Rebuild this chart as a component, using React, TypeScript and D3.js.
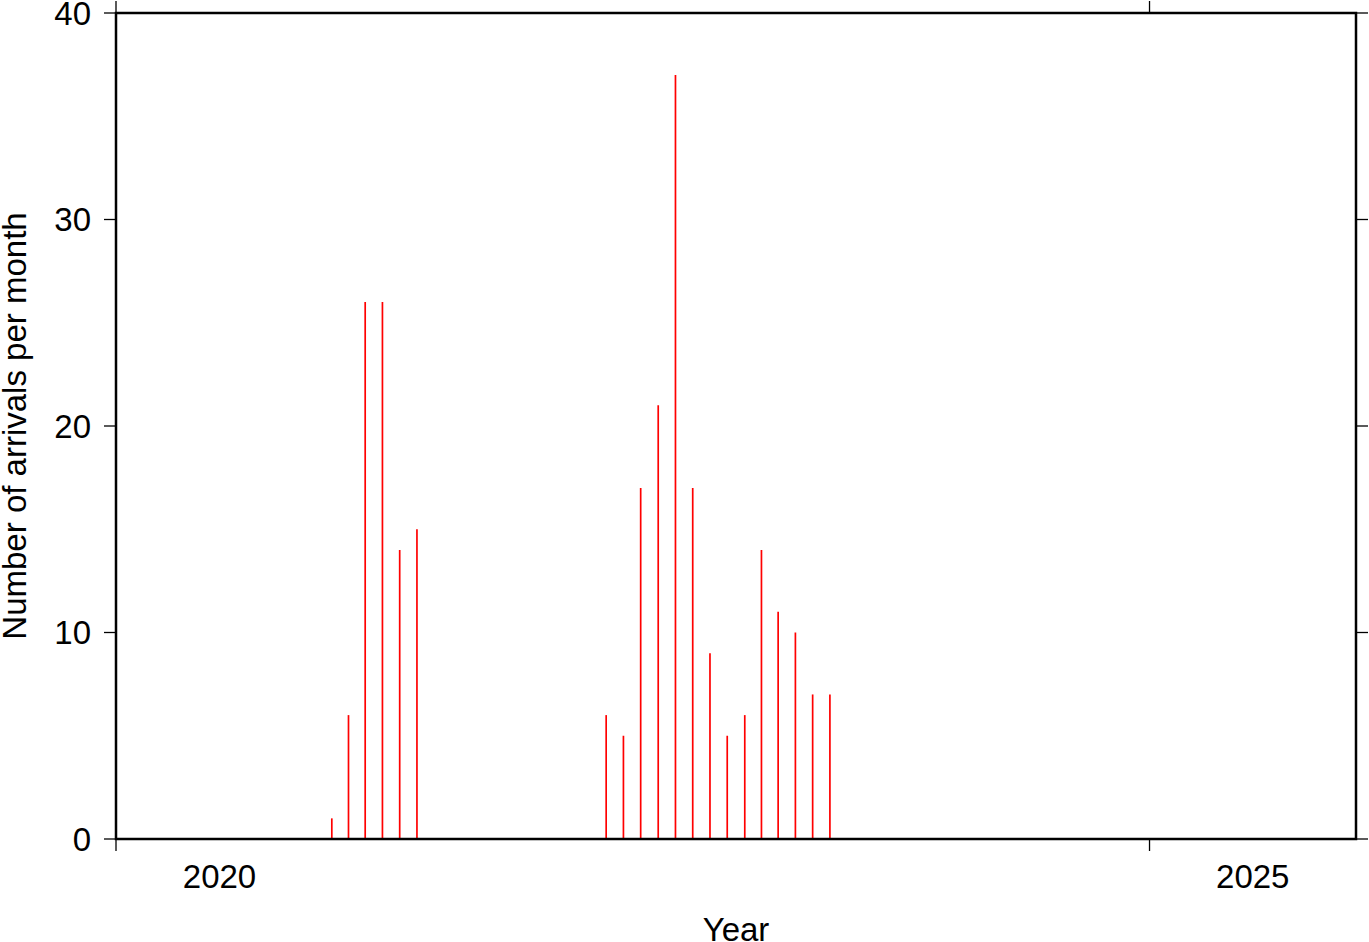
import React from "react";
import * as d3 from "d3";

const months: string[] = [
  "2021-01", "2021-02", "2021-03", "2021-04", "2021-05", "2021-06",
  "2022-05", "2022-06", "2022-07", "2022-08", "2022-09", "2022-10",
  "2022-11", "2022-12", "2023-01", "2023-02", "2023-03", "2023-04",
  "2023-05", "2023-06",
];
const counts: number[] = [1, 6, 26, 26, 14, 15, 6, 5, 17, 21, 37, 17, 9, 5, 6, 14, 11, 10, 7, 7];
const yTicks: number[] = [0, 10, 20, 30, 40];
const xTickYears: number[] = [2020, 2025];
const xLabelYears: number[] = [2020, 2025];

const W = 1369, H = 942;
const L = 116, R = 1356, T = 13, B = 839;
const FONT = "'Liberation Sans', Arial, Helvetica, sans-serif";
const FS = 33;

export default function App() {
  const x = d3.scaleUtc().domain([new Date(Date.UTC(2020, 0, 1)), new Date(Date.UTC(2026, 0, 1))]).range([L, R]);
  const y = d3.scaleLinear().domain([0, 40]).range([B, T]);
  const parse = d3.utcParse("%Y-%m");
  const mid = (s: string) => {
    const d = parse(s)!;
    const next = d3.utcMonth.offset(d, 1);
    return new Date((d.getTime() + next.getTime()) / 2);
  };
  const tickLen = 12;
  return (
    <svg width={W} height={H} style={{ position: "absolute", left: 0, top: 0, background: "#fff" }} fontFamily={FONT}>
      {months.map((m, i) => (
        <line key={m} x1={x(mid(m))} x2={x(mid(m))} y1={y(0)} y2={y(counts[i])} stroke="#ff0000" strokeWidth={1.7} />
      ))}
      <rect x={L} y={T} width={R - L} height={B - T} fill="none" stroke="#000" strokeWidth={2.5} />
      {yTicks.map((v) => (
        <g key={v}>
          <line x1={L - tickLen} x2={L} y1={y(v)} y2={y(v)} stroke="#000" strokeWidth={1.3} />
          <line x1={R} x2={R + tickLen} y1={y(v)} y2={y(v)} stroke="#000" strokeWidth={1.3} />
          <text x={L - 25} y={y(v)} dy="0.36em" textAnchor="end" fontSize={FS}>{v}</text>
        </g>
      ))}
      {xTickYears.map((yr) => {
        const px = x(new Date(Date.UTC(yr, 0, 1)));
        return (
          <g key={yr}>
            <line x1={px} x2={px} y1={B} y2={B + tickLen} stroke="#000" strokeWidth={1.3} />
            <line x1={px} x2={px} y1={T - tickLen} y2={T} stroke="#000" strokeWidth={1.3} />
          </g>
        );
      })}
      {xLabelYears.map((yr) => {
        const px = (x(new Date(Date.UTC(yr, 0, 1))) + x(new Date(Date.UTC(yr + 1, 0, 1)))) / 2;
        return (
          <text key={yr} x={px} y={888} textAnchor="middle" fontSize={FS}>{yr}</text>
        );
      })}
      <text x={(L + R) / 2} y={941} textAnchor="middle" fontSize={FS}>Year</text>
      <text transform={`translate(26, ${(T + B) / 2}) rotate(-90)`} textAnchor="middle" fontSize={FS}>Number of arrivals per month</text>
    </svg>
  );
}
